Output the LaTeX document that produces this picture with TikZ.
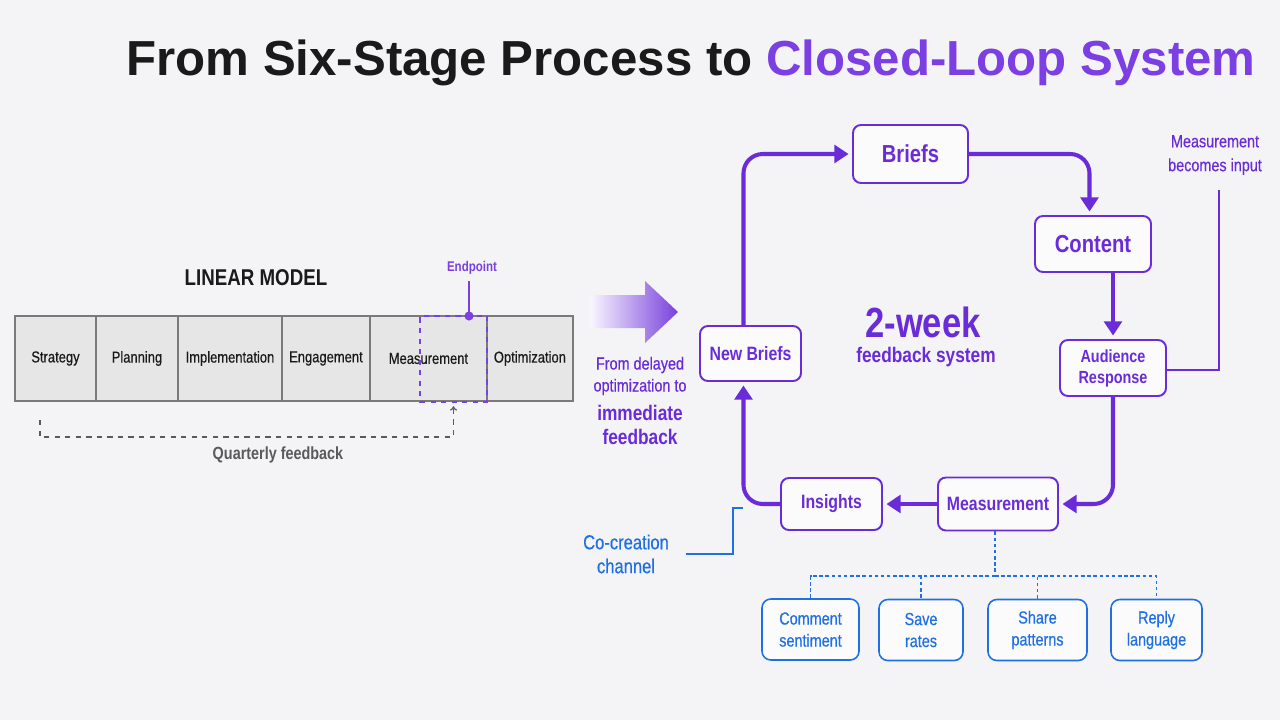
\documentclass[tikz,border=0pt]{standalone}
\usepackage{fontspec}
\setmainfont{Liberation Sans}[FakeStretch=0.82]
\newfontfamily\titlefont{Liberation Sans}
\newfontfamily\medfont{Liberation Sans}[FakeStretch=0.82,FakeBold=0.5]
\usepackage{tikz}
\usetikzlibrary{arrows.meta,positioning,calc}
\definecolor{bgc}{HTML}{F4F4F6}
\definecolor{ink}{HTML}{1A1A1A}
\definecolor{violet}{HTML}{6A2BD9}
\definecolor{lilac}{HTML}{7B3FE4}
\definecolor{azure}{HTML}{1F6FE5}
\definecolor{slate}{HTML}{5A5A5A}
\definecolor{cell}{HTML}{E6E6E6}
\definecolor{rim}{HTML}{7A7A7A}

\begin{document}
\begin{tikzpicture}[x=0.02cm,y=-0.02cm,
   stage/.style={draw=rim,fill=cell,line width=0.7pt,minimum height=1.7cm,
      inner sep=0pt,outer sep=0pt,anchor=west,font=\medfont\fontsize{9}{11}\selectfont,text=ink},
   lbox/.style={draw=violet,fill=white!60!bgc,line width=1.1pt,rounded corners=4.5pt,
      inner sep=0pt,text=violet,align=center},
   mbox/.style={draw=azure,fill=white!60!bgc,line width=0.9pt,rounded corners=5pt,
      inner sep=0pt,text=azure,align=center,minimum height=1.22cm,
      font=\medfont\fontsize{10}{12.5}\selectfont},
   flow/.style={draw=violet,line width=2.3pt,rounded corners=11pt,
      -{Triangle[length=8pt,width=10pt]}},
   tree/.style={draw=azure,line width=0.6pt,dash pattern=on 2pt off 1.5pt}]
  \fill[bgc] (0,0) rectangle (1280,720);
  \useasboundingbox (0,0) rectangle (1280,720);

  \node[anchor=base,font=\titlefont\bfseries\fontsize{28}{32}\selectfont,text=ink] (title) at (691,75)
   {From Six-Stage Process to \textcolor{lilac}{Closed-Loop System}};

  \node[font=\bfseries\fontsize{13}{15}\selectfont,text=ink] (lin) at (256,278) {LINEAR MODEL};
  \node[stage,minimum width=1.62cm] (s1) at (15,358.5) {Strategy};
  \node[stage,minimum width=1.64cm] (s2) at (s1.east) {Planning};
  \node[stage,minimum width=2.08cm] (s3) at (s2.east) {Implementation};
  \node[stage,minimum width=1.76cm] (s4) at (s3.east) {Engagement};
  \node[stage,minimum width=2.34cm] (s5) at (s4.east) {Measurement};
  \node[stage,minimum width=1.72cm] (s6) at (s5.east) {Optimization};
  \node[draw=lilac,line width=0.8pt,dashed,minimum width=1.34cm,minimum height=1.72cm,inner sep=0pt] (endbox) at (453.5,359) {};
  \node[font=\bfseries\fontsize{8}{10}\selectfont,text=lilac] (endl) at (472,268) {Endpoint};
  \coordinate (dot) at (469,316);
  \draw[lilac,line width=0.8pt] (endl.south -| dot) -- (dot);
  \fill[lilac] (dot) circle (2.6pt);
  \coordinate (qs) at (40,420);
  \draw[slate,line width=0.7pt,dashed,-{To[length=2.5pt,width=4pt]}] (qs) -- (40,437) -| ([yshift=-2pt]endbox.south);
  \node[font=\bfseries\fontsize{10}{12}\selectfont,text=slate] (qf) at (278,455) {Quarterly feedback};

  \shade[left color=violet!4,right color=violet!90] (590,295) -- (645,295) -- (645,281) -- (678,312)
     -- (645,343) -- (645,328) -- (590,328) -- cycle;
  \node[align=center,text=violet,font=\medfont\fontsize{10}{12.5}\selectfont] (frm) at (640,376) {From delayed\\optimization to};
  \node[align=center,text=violet,font=\bfseries\fontsize{12}{13.7}\selectfont] (imm) at (640,425) {immediate\\feedback};

  \node[lbox,minimum width=2.3cm,minimum height=1.16cm,font=\bfseries\fontsize{14}{16}\selectfont] (brf) at (910.5,154) {Briefs};
  \node[lbox,minimum width=2.32cm,minimum height=1.12cm,font=\bfseries\fontsize{14}{16}\selectfont] (cnt) at (1093,244) {Content};
  \node[lbox,minimum width=2.12cm,minimum height=1.12cm,font=\bfseries\fontsize{10}{12}\selectfont] (aud) at (1113,368) {Audience\\Response};
  \node[lbox,minimum width=2.4cm,minimum height=1.06cm,font=\bfseries\fontsize{11}{13}\selectfont] (mea) at (998,504) {Measurement};
  \node[lbox,minimum width=2.02cm,minimum height=1.04cm,font=\bfseries\fontsize{11}{13}\selectfont] (ins) at (831.5,504) {Insights};
  \node[lbox,minimum width=2.02cm,minimum height=1.1cm,font=\bfseries\fontsize{11}{13}\selectfont] (nbr) at (750.5,353.5) {New Briefs};

  \draw[flow] ([xshift=-4pt]nbr.north) |- ([xshift=-2pt]brf.west);
  \draw[flow] (brf.east) -| ([xshift=-2pt,yshift=2pt]cnt.north);
  \draw[flow] (cnt.south -| aud.north) -- ([yshift=2pt]aud.north);
  \draw[flow] (aud.south) |- ([xshift=2pt]mea.east);
  \draw[flow] (mea.west) -- ([xshift=2pt]ins.east);
  \draw[flow] (ins.west) -| ([xshift=-4pt,yshift=-2pt]nbr.south);

  \node[font=\bfseries\fontsize{24}{26}\selectfont,text=violet] (wk) at (923,322) {2-week};
  \node[font=\bfseries\fontsize{12}{14}\selectfont,text=violet] (fbs) at (926,357) {feedback system};

  \node[align=center,text=violet,font=\medfont\fontsize{10}{13.6}\selectfont] (mbi) at (1215,155) {Measurement\\becomes input};
  \draw[violet,line width=1.1pt] ([xshift=2pt,yshift=-5pt]mbi.south) |- ([yshift=-1pt]aud.east);

  \node[align=center,text=azure,font=\medfont\fontsize{11.5}{13.6}\selectfont] (cocr) at (626,554) {Co-creation\\channel};
  \coordinate (coend) at (743,508);
  \draw[azure,line width=1.1pt] ([xshift=6pt]cocr.east) -- (733,554) |- (coend);

  \node[mbox,minimum width=1.94cm] (cs) at (810.5,629.5) {Comment\\sentiment};
  \node[mbox,minimum width=1.68cm] (sr) at (921,630) {Save\\rates};
  \node[mbox,minimum width=1.98cm] (sp) at (1037.5,630) {Share\\patterns};
  \node[mbox,minimum width=1.82cm] (rl) at (1156.5,630) {Reply\\language};
  \coordinate (hub) at (995,576);
  \draw[tree] (mea.south -| hub) -- (hub);
  \foreach \b in {cs,sr,sp,rl}
    \draw[tree] (hub) -| (\b.north);
\end{tikzpicture}
\end{document}
